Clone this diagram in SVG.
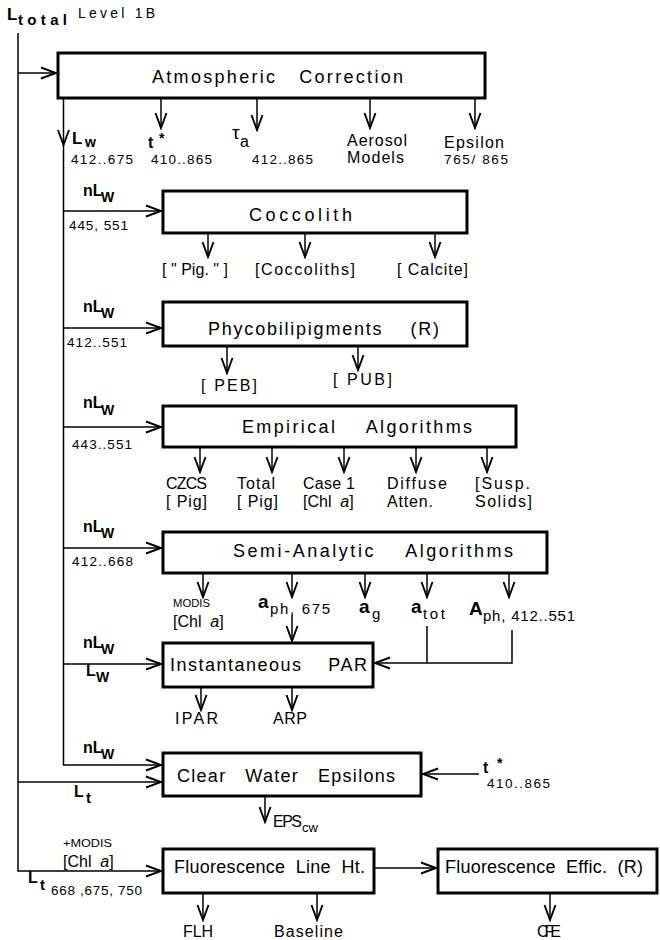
<svg xmlns="http://www.w3.org/2000/svg" width="660" height="940" viewBox="0 0 660 940" xml:space="preserve">
<style>
text{font-family:"Liberation Sans",Arial,sans-serif;fill:#000;white-space:pre}
.t{font-size:18px}
.l{font-size:16px}
.n{font-size:13.5px}
.s{font-size:10.5px}
.b{font-weight:bold}
.box{fill:#fff;stroke:#000;stroke-width:3}
.c{fill:none;stroke:#000;stroke-width:1.5}
.a{fill:none;stroke:#000;stroke-width:1.5;marker-end:url(#ah)}
</style>
<defs>
<marker id="ah" viewBox="-17 -8 19 16" refX="0" refY="0" markerWidth="19" markerHeight="16" markerUnits="userSpaceOnUse" orient="auto">
<path d="M-15,-5.5 L0,0 L-15,5.5" fill="none" stroke="#000" stroke-width="1.9"/>
</marker>
</defs>
<g id="connectors">
<path class="a" d="M18,33 V871 H161"/>
<path class="a" d="M18,73 H56"/>
<path class="a" d="M63.5,98 V145"/>
<path class="a" d="M63.5,145 V765 H161"/>
<path class="a" d="M63.5,211 H161"/>
<path class="a" d="M63.5,328 H161"/>
<path class="a" d="M63.5,427 H161"/>
<path class="a" d="M63.5,548 H161"/>
<path class="a" d="M63.5,664 H161"/>
<path class="a" d="M18,782 H161"/>
<path class="a" d="M479,774 H423"/>
<path class="a" d="M374,868 H436"/>
<path class="a" d="M161,98 V128"/>
<path class="a" d="M257,98 V130"/>
<path class="a" d="M370,98 V128"/>
<path class="a" d="M475,98 V128"/>
<path class="a" d="M208,233 V257"/>
<path class="a" d="M305,233 V257"/>
<path class="a" d="M435,233 V257"/>
<path class="a" d="M227,346 V373"/>
<path class="a" d="M358,346 V370"/>
<path class="a" d="M200,447 V472"/>
<path class="a" d="M272,447 V472"/>
<path class="a" d="M344,447 V472"/>
<path class="a" d="M416,447 V472"/>
<path class="a" d="M487,447 V472"/>
<path class="a" d="M203,573 V597"/>
<path class="a" d="M292,573 V597"/>
<path class="a" d="M365,573 V597"/>
<path class="a" d="M427,573 V597"/>
<path class="a" d="M509,573 V597"/>
<path class="a" d="M292,615 V641"/>
<path class="c" d="M427,626 V663"/>
<path class="a" d="M512,630 V663 H375"/>
<path class="a" d="M201,687 V710"/>
<path class="a" d="M292,687 V710"/>
<path class="a" d="M265,796 V822"/>
<path class="a" d="M203,893 V920"/>
<path class="a" d="M317,893 V920"/>
<path class="a" d="M550,893 V920"/>
</g>
<g id="atmospheric-correction">
<rect class="box" x="58" y="53" width="427" height="45"/>
<text class="t" x="152" y="83" textLength="251" lengthAdjust="spacing">Atmospheric   Correction</text>
</g>
<g id="coccolith">
<rect class="box" x="163" y="191" width="304" height="42"/>
<text class="t" x="249" y="221" textLength="103" lengthAdjust="spacing">Coccolith</text>
</g>
<g id="phycobilipigments">
<rect class="box" x="163" y="302" width="304" height="44"/>
<text class="t" x="208" y="335" textLength="231" lengthAdjust="spacing">Phycobilipigments    (R)</text>
</g>
<g id="empirical-algorithms">
<rect class="box" x="163" y="406" width="353" height="41"/>
<text class="t" x="242" y="433" textLength="230" lengthAdjust="spacing">Empirical    Algorithms</text>
</g>
<g id="semi-analytic-algorithms">
<rect class="box" x="163" y="532" width="384" height="41"/>
<text class="t" x="233" y="557" textLength="280" lengthAdjust="spacing">Semi-Analytic    Algorithms</text>
</g>
<g id="instantaneous-par">
<rect class="box" x="163" y="643" width="210" height="44"/>
<text class="t" x="170" y="671" textLength="197" lengthAdjust="spacing">Instantaneous    PAR</text>
</g>
<g id="clear-water-epsilons">
<rect class="box" x="163" y="753" width="258" height="43"/>
<text class="t" x="177" y="782" textLength="218" lengthAdjust="spacing">Clear   Water   Epsilons</text>
</g>
<g id="fluorescence-line-ht">
<rect class="box" x="163" y="849" width="211" height="44"/>
<text class="t" x="174" y="873" textLength="191" lengthAdjust="spacing">Fluorescence  Line  Ht.</text>
</g>
<g id="fluorescence-effic">
<rect class="box" x="438" y="849" width="219" height="44"/>
<text class="t" x="445" y="873" textLength="198" lengthAdjust="spacing">Fluorescence  Effic.  (R)</text>
</g>
<g id="labels">
<text class="b" font-size="17" x="7" y="20">L</text>
<text class="b" font-size="15" x="18" y="25" textLength="49" lengthAdjust="spacing">total</text>
<text font-size="14" x="78" y="18" textLength="77" lengthAdjust="spacing">Level 1B</text>
<text class="b" font-size="17" x="72" y="144">L</text>
<text class="b" font-size="14" x="85" y="147">w</text>
<text class="n" x="71" y="164" textLength="62" lengthAdjust="spacing">412..675</text>
<text class="b" font-size="16" x="148" y="148">t</text>
<text class="b" font-size="14" x="159" y="143">*</text>
<text class="n" x="151" y="164" textLength="61" lengthAdjust="spacing">410..865</text>
<text font-size="19" x="232" y="139">τ</text>
<text font-size="16" x="240" y="147">a</text>
<text class="n" x="252" y="164" textLength="61" lengthAdjust="spacing">412..865</text>
<text class="l" x="347" y="146" textLength="60" lengthAdjust="spacing">Aerosol</text>
<text class="l" x="347" y="163" textLength="57" lengthAdjust="spacing">Models</text>
<text class="l" x="444" y="148" textLength="60" lengthAdjust="spacing">Epsilon</text>
<text class="n" x="444" y="164" textLength="64" lengthAdjust="spacing">765/ 865</text>
<text class="b" font-size="16" x="83" y="196">nL</text>
<text class="b" font-size="14" x="101" y="202">W</text>
<text class="n" x="69" y="230" textLength="59" lengthAdjust="spacing">445, 551</text>
<text class="l" x="162" y="275" textLength="66" lengthAdjust="spacing">[ " Pig. " ]</text>
<text class="l" x="255" y="275" textLength="100" lengthAdjust="spacing">[Coccoliths]</text>
<text class="l" x="397" y="275" textLength="71" lengthAdjust="spacing">[ Calcite]</text>
<text class="b" font-size="16" x="83" y="312">nL</text>
<text class="b" font-size="14" x="101" y="318">W</text>
<text class="n" x="67" y="347" textLength="60" lengthAdjust="spacing">412..551</text>
<text class="l" x="201" y="391" textLength="56" lengthAdjust="spacing">[ PEB]</text>
<text class="l" x="333" y="385" textLength="59" lengthAdjust="spacing">[ PUB]</text>
<text class="b" font-size="16" x="83" y="408">nL</text>
<text class="b" font-size="14" x="101" y="415">W</text>
<text class="n" x="72" y="449" textLength="60" lengthAdjust="spacing">443..551</text>
<text class="l" x="166" y="489" textLength="41" lengthAdjust="spacing">CZCS</text>
<text class="l" x="166" y="507" textLength="41" lengthAdjust="spacing">[ Pig]</text>
<text class="l" x="237" y="489" textLength="38" lengthAdjust="spacing">Total</text>
<text class="l" x="237" y="507" textLength="41" lengthAdjust="spacing">[ Pig]</text>
<text class="l" x="303" y="489" textLength="52" lengthAdjust="spacing">Case 1</text>
<text class="l" x="303" y="507">[Chl  <tspan font-style="italic">a</tspan>]</text>
<text class="l" x="387" y="489" textLength="60" lengthAdjust="spacing">Diffuse</text>
<text class="l" x="387" y="507" textLength="46" lengthAdjust="spacing">Atten.</text>
<text class="l" x="475" y="489" textLength="55" lengthAdjust="spacing">[Susp.</text>
<text class="l" x="475" y="507" textLength="57" lengthAdjust="spacing">Solids]</text>
<text class="b" font-size="16" x="83" y="532">nL</text>
<text class="b" font-size="14" x="101" y="538">W</text>
<text class="n" x="72" y="566" textLength="61" lengthAdjust="spacing">412..668</text>
<text class="s" x="173" y="607" textLength="37" lengthAdjust="spacingAndGlyphs">MODIS</text>
<text class="l" x="173" y="627">[Chl  <tspan font-style="italic">a</tspan>]</text>
<text class="b" font-size="19" x="258" y="608">a</text>
<text font-size="15" x="270" y="614" textLength="60" lengthAdjust="spacing">ph, 675</text>
<text class="b" font-size="19" x="359" y="613">a</text>
<text font-size="15" x="372" y="619">g</text>
<text class="b" font-size="19" x="411" y="613">a</text>
<text font-size="15" x="423" y="619" textLength="22" lengthAdjust="spacing">tot</text>
<text class="b" font-size="19" x="469" y="615">A</text>
<text font-size="15" x="483" y="621" textLength="92" lengthAdjust="spacing">ph, 412..551</text>
<text class="b" font-size="16" x="83" y="648">nL</text>
<text class="b" font-size="14" x="101" y="654">W</text>
<text class="b" font-size="16" x="86" y="676">L</text>
<text class="b" font-size="14" x="96" y="682">W</text>
<text class="l" x="175" y="724" textLength="43" lengthAdjust="spacing">IPAR</text>
<text class="l" x="273" y="724" textLength="34" lengthAdjust="spacing">ARP</text>
<text class="b" font-size="16" x="83" y="753">nL</text>
<text class="b" font-size="14" x="101" y="759">W</text>
<text class="b" font-size="16" x="74" y="797">L</text>
<text class="b" font-size="15" x="86" y="803">t</text>
<text class="b" font-size="16" x="483" y="773">t</text>
<text class="b" font-size="14" x="497" y="768">*</text>
<text class="n" x="487" y="788" textLength="63" lengthAdjust="spacing">410..865</text>
<text class="l" x="273" y="827" textLength="29" lengthAdjust="spacing">EPS</text>
<text font-size="13" x="302" y="832">cw</text>
<text class="s" x="63" y="847" textLength="49" lengthAdjust="spacingAndGlyphs">+MODIS</text>
<text class="l" x="63" y="867">[Chl  <tspan font-style="italic">a</tspan>]</text>
<text class="b" font-size="16" x="28" y="883">L</text>
<text class="b" font-size="15" x="40" y="890">t</text>
<text class="n" x="51" y="895" textLength="91" lengthAdjust="spacing">668 ,675, 750</text>
<text class="l" x="183" y="937" textLength="30" lengthAdjust="spacing">FLH</text>
<text class="l" x="274" y="937" textLength="69" lengthAdjust="spacing">Baseline</text>
<text class="l" x="537" y="937" textLength="24" lengthAdjust="spacing">CFE</text>
</g>
</svg>
